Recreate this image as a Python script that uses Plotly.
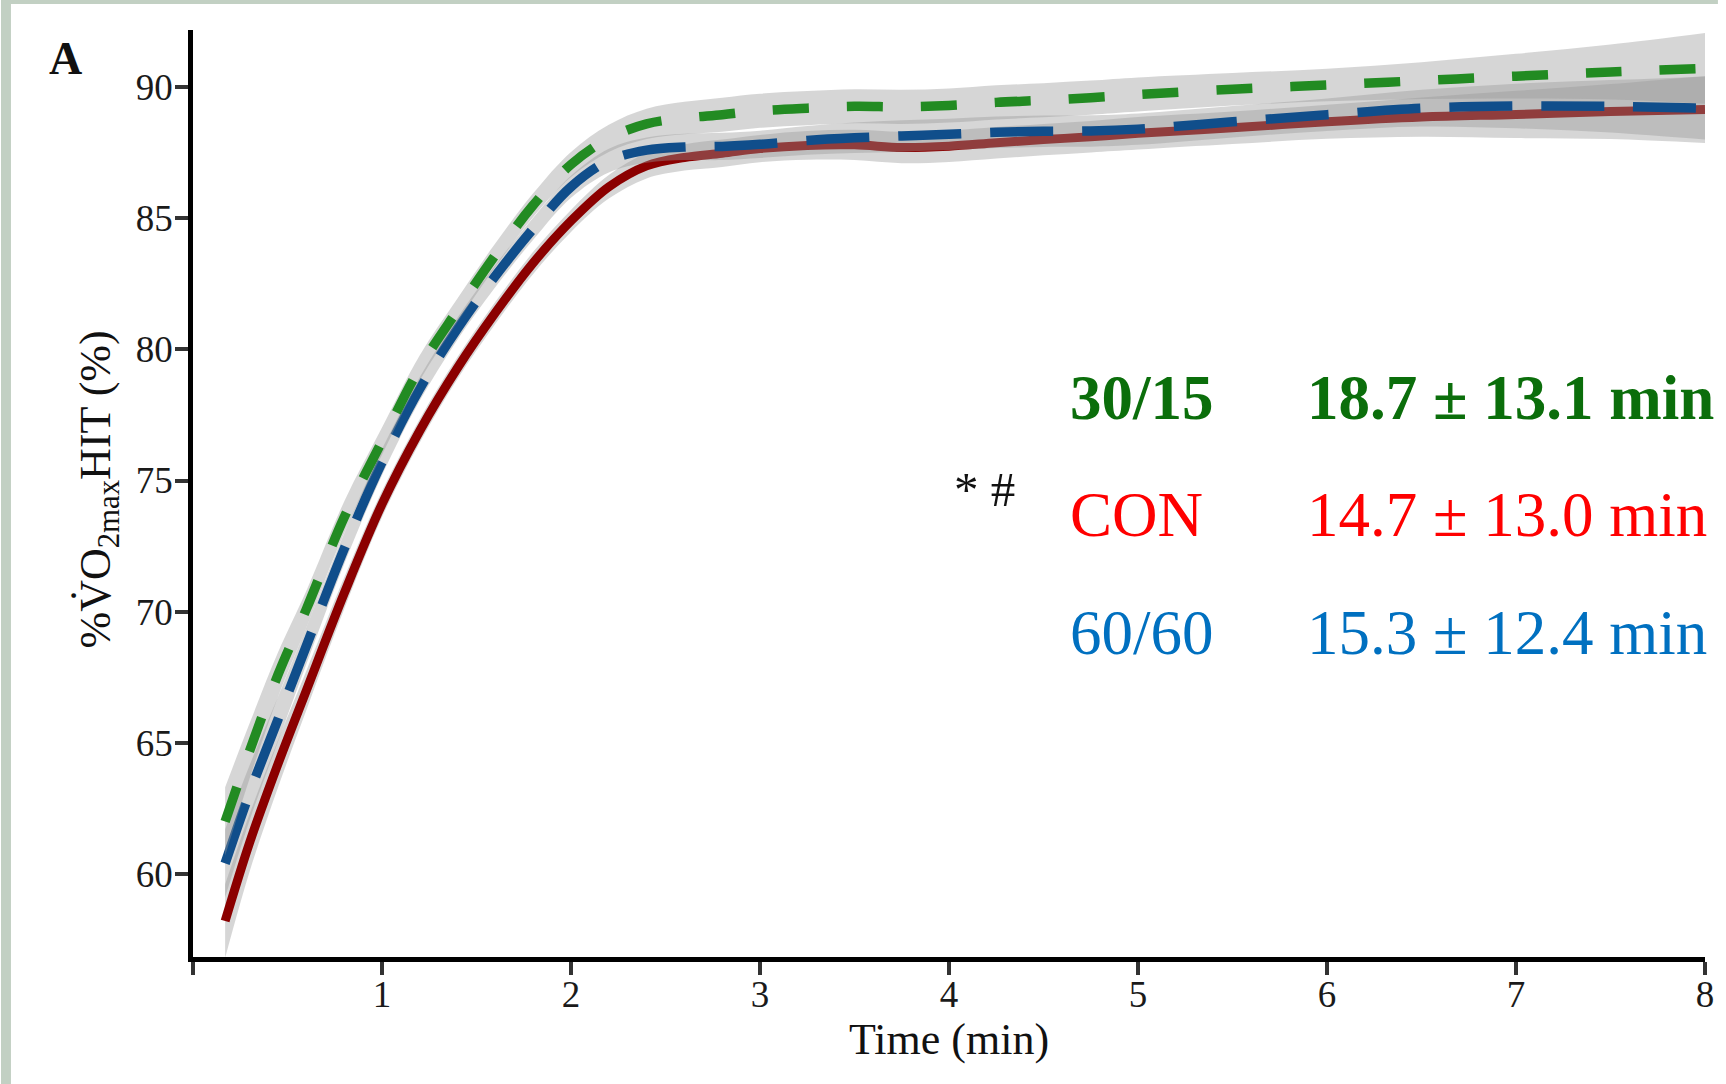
import plotly.graph_objects as go

# Time after exercise onset (min)
time_min = [0.17, 0.3, 0.45, 0.6, 0.8, 1.0, 1.2, 1.4, 1.6, 1.8, 2.0, 2.2, 2.4, 2.6, 2.8,
            3.0, 3.25, 3.5, 3.75, 4.0, 4.25, 4.5, 4.75, 5.0, 5.5, 6.0, 6.5, 7.0, 7.5, 8.0]

# Smoothed %VO2max during HIT for each protocol
con_mean = [58.2, 61.2, 64.2, 67.0, 70.7, 74.1, 76.9, 79.3, 81.4, 83.3, 84.9, 86.2, 87.0, 87.32, 87.48,
            87.66, 87.78, 87.80, 87.70, 87.75, 87.88, 88.0, 88.11, 88.24, 88.45, 88.68, 88.86, 88.96, 89.07, 89.15]
p6060_mean = [60.4, 63.1, 65.9, 68.7, 72.4, 75.7, 78.5, 80.8, 82.8, 84.6, 86.2, 87.2, 87.6, 87.72, 87.74,
              87.82, 87.97, 88.07, 88.14, 88.2, 88.28, 88.32, 88.33, 88.4, 88.68, 88.95, 89.2, 89.28, 89.27, 89.2]
p3015_mean = [62.0, 64.7, 67.6, 70.1, 73.6, 76.5, 79.3, 81.5, 83.6, 85.5, 87.05, 88.05, 88.6, 88.82, 88.95,
              89.1, 89.2, 89.27, 89.25, 89.3, 89.42, 89.5, 89.6, 89.72, 89.92, 90.08, 90.25, 90.42, 90.58, 90.72]

# Half-width of the confidence ribbon around each smooth
con_ci = [1.4, 1.1, 0.9, 0.75, 0.6, 0.5, 0.45, 0.42, 0.42, 0.42, 0.42, 0.45, 0.48, 0.5, 0.52,
          0.52, 0.55, 0.58, 0.6, 0.6, 0.6, 0.6, 0.6, 0.62, 0.62, 0.65, 0.75, 0.9, 1.05, 1.28]
p6060_ci = [1.3, 1.05, 0.85, 0.7, 0.58, 0.5, 0.45, 0.42, 0.42, 0.42, 0.42, 0.45, 0.48, 0.5, 0.52,
            0.52, 0.55, 0.58, 0.6, 0.6, 0.6, 0.6, 0.6, 0.6, 0.6, 0.62, 0.7, 0.85, 1.0, 1.2]
p3015_ci = [1.3, 1.05, 0.85, 0.7, 0.6, 0.52, 0.48, 0.45, 0.45, 0.45, 0.48, 0.52, 0.58, 0.62, 0.65,
            0.65, 0.65, 0.65, 0.65, 0.65, 0.65, 0.65, 0.65, 0.65, 0.62, 0.62, 0.7, 0.85, 1.05, 1.35]

# Labels and time spent near VO2max
group_labels = ["30/15", "CON", "60/60"]
time_labels = ["18.7 ± 13.1 min", "14.7 ± 13.0 min", "15.3 ± 12.4 min"]
x_ticks = [0, 1, 2, 3, 4, 5, 6, 7, 8]
x_tick_text = ["", "1", "2", "3", "4", "5", "6", "7", "8"]
y_ticks = [60, 65, 70, 75, 80, 85, 90]

FONT = "Liberation Serif, Times New Roman, serif"
RIBBON = "rgba(153,153,153,0.4)"

series = [
    (con_mean, con_ci, "#8B0000", "solid", 9),
    (p6060_mean, p6060_ci, "#104E8B", "63px,29px", 9.5),
    (p3015_mean, p3015_ci, "#228B22", "36px,38px", 9.5),
]

fig = go.Figure()
for mean, ci, color, dash, width in series:
    upper = [m + c for m, c in zip(mean, ci)]
    lower = [m - c for m, c in zip(mean, ci)]
    fig.add_trace(go.Scatter(x=time_min, y=upper, mode="lines", line=dict(width=0, shape="spline"),
                             hoverinfo="skip", showlegend=False))
    fig.add_trace(go.Scatter(x=time_min, y=lower, mode="lines", line=dict(width=0, shape="spline"),
                             fill="tonexty", fillcolor=RIBBON, hoverinfo="skip", showlegend=False))
    fig.add_trace(go.Scatter(x=time_min, y=mean, mode="lines",
                             line=dict(color=color, width=width, dash=dash, shape="spline"),
                             showlegend=False))

W, H = 1726, 1084
L, R, T, B = 193, 13, 30, 127
pw, ph = W - L - R, H - T - B


def px_x(px):
    return (px - L) / pw


def px_y(py):
    return (H - B - py) / ph


annotations = []
# group names and durations
row_y = [398, 515, 633]
text_colors = ["#0b6e0b", "#ff0000", "#0070c0"]
for i, (g, t) in enumerate(zip(group_labels, time_labels)):
    bold = i == 0
    for txt, x0 in ((g, 1073), (t, 1311)):
        annotations.append(dict(
            x=px_x(x0), y=px_y(row_y[i]), xref="paper", yref="paper",
            text=f"<b>{txt}</b>" if bold else txt, showarrow=False,
            xanchor="left", yanchor="middle",
            font=dict(family=FONT, size=63, color=text_colors[i])))

annotations.append(dict(x=px_x(956), y=px_y(489), xref="paper", yref="paper", text="* #",
                        showarrow=False, xanchor="left", yanchor="middle",
                        font=dict(family=FONT, size=49, color="#111")))
annotations.append(dict(x=px_x(65), y=px_y(58), xref="paper", yref="paper", text="<b>A</b>",
                        showarrow=False, xanchor="center", yanchor="middle",
                        font=dict(family=FONT, size=46, color="#111")))
annotations.append(dict(x=px_x(953), y=px_y(1039), xref="paper", yref="paper", text="Time (min)",
                        showarrow=False, xanchor="center", yanchor="middle",
                        font=dict(family=FONT, size=44, color="#111")))
annotations.append(dict(x=px_x(97), y=px_y(490), xref="paper", yref="paper",
                        text="%V\u0307O<sub>2max</sub>HIT (%)", textangle=-90,
                        showarrow=False, xanchor="center", yanchor="middle",
                        font=dict(family=FONT, size=44, color="#111")))

frame = "#c2d0c3"
shapes = [
    dict(type="rect", xref="paper", yref="paper", x0=px_x(0), x1=px_x(10), y0=px_y(H), y1=px_y(0),
         fillcolor=frame, line=dict(width=0), layer="above"),
    dict(type="rect", xref="paper", yref="paper", x0=px_x(0), x1=px_x(W), y0=px_y(4), y1=px_y(0),
         fillcolor=frame, line=dict(width=0), layer="above"),
]

axis_common = dict(showgrid=False, zeroline=False, showline=True, linecolor="black", linewidth=4.5,
                   ticks="outside", ticklen=13, tickwidth=4, tickcolor="#333",
                   tickfont=dict(family=FONT, size=37, color="#1a1a1a"))

fig.update_layout(
    width=W, height=H,
    margin=dict(l=L, r=R, t=T, b=B),
    paper_bgcolor="white", plot_bgcolor="white",
    xaxis=dict(range=[0, 8], tickvals=x_ticks, ticktext=x_tick_text, ticklabelstandoff=-12, **axis_common),
    yaxis=dict(range=[56.83, 92.18], tickvals=y_ticks, ticklabelstandoff=-5, **axis_common),
    annotations=annotations,
    shapes=shapes,
)

fig.write_html("out.html")
